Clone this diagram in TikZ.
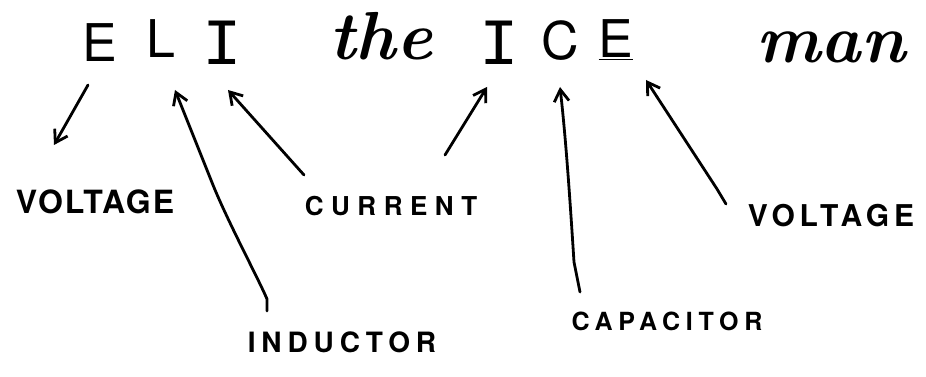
\documentclass[tikz,border=0pt]{standalone}
\usepackage{fontspec}
\newfontfamily\heros{TeX Gyre Heros}
\newfontfamily\monoI{Liberation Mono}
\usetikzlibrary{arrows.meta}
\begin{document}
\begin{tikzpicture}[x=1pt,y=-1pt,
  topletter/.style={inner sep=0pt, anchor=base, font=\heros\fontsize{52}{52}\selectfont},
  topI/.style={inner sep=0pt, anchor=base, font=\monoI\fontsize{66}{66}\selectfont},
  scriptword/.style={inner sep=0pt, anchor=base, font=\rmfamily\itshape\fontsize{68}{68}\selectfont},
  lbl/.style={inner sep=0pt, anchor=center},
  conn/.style={line width=2.8pt, line cap=round, line join=round,
    -{Straight Barb[angle=64:14pt, line width=2.8pt]}}
]
\useasboundingbox (0,0) rectangle (926,377);
% top row
\node[topletter] (E1) at (100,62) {E};
\node[topletter] (L) at (161,58) {L};
\node[topI] (I1) at (222,65) {I};
\node[scriptword] (the) at (381,60) {\textbf{the}};
\node[topI] (I2) at (499,65) {I};
\node[topletter] (C) at (560,60) {C};
\node[topletter] (E2) at (616,58) {\underline{E}};
\node[scriptword] (man) at (831,63) {\textbf{man}};
% labels
\node[lbl] (volt1) at (95,202) {\heros\bfseries\fontsize{32}{32}\selectfont\addfontfeature{LetterSpace=6}VOLTAGE};
\node[lbl] (curr) at (391,206) {\heros\bfseries\fontsize{26}{26}\selectfont\addfontfeature{LetterSpace=29}CURRENT};
\node[lbl] (ind) at (342,342) {\heros\bfseries\fontsize{28}{28}\selectfont\addfontfeature{LetterSpace=21}INDUCTOR};
\node[lbl] (cap) at (667,321) {\heros\bfseries\fontsize{25}{25}\selectfont\addfontfeature{LetterSpace=23}CAPACITOR};
\node[lbl] (volt2) at (831,216) {\heros\bfseries\fontsize{30}{30}\selectfont\addfontfeature{LetterSpace=16}VOLTAGE};
% connector ends
\coordinate (e1tail) at (88,85);
\coordinate (e1head) at (54,145);
\coordinate (lhead) at (175,90);
\coordinate (indtail) at (267,311);
\coordinate (indmid) at (213,185);
\coordinate (i1head) at (228,90);
\coordinate (currtailA) at (304,175);
\coordinate (currtailB) at (445,155);
\coordinate (i2head) at (487,87);
\coordinate (captail) at (580,292);
\coordinate (chead) at (560,87);
\coordinate (v2tail) at (726,204);
\coordinate (e2head) at (646,80);
% connectors
\draw[conn] (e1tail) -- (e1head);
\draw[conn] (indtail) -- ++(0,-12) .. controls (258,278) and (228,222) .. (indmid) -- (lhead);
\draw[conn] (currtailA) -- (i1head);
\draw[conn] (currtailB) -- (i2head);
\draw[conn] (captail) -- ++(-6,-30) .. controls (570,200) and (566,140) .. (chead);
\draw[conn] (v2tail) -- ++(-9,-15) -- (e2head);
\end{tikzpicture}
\end{document}
